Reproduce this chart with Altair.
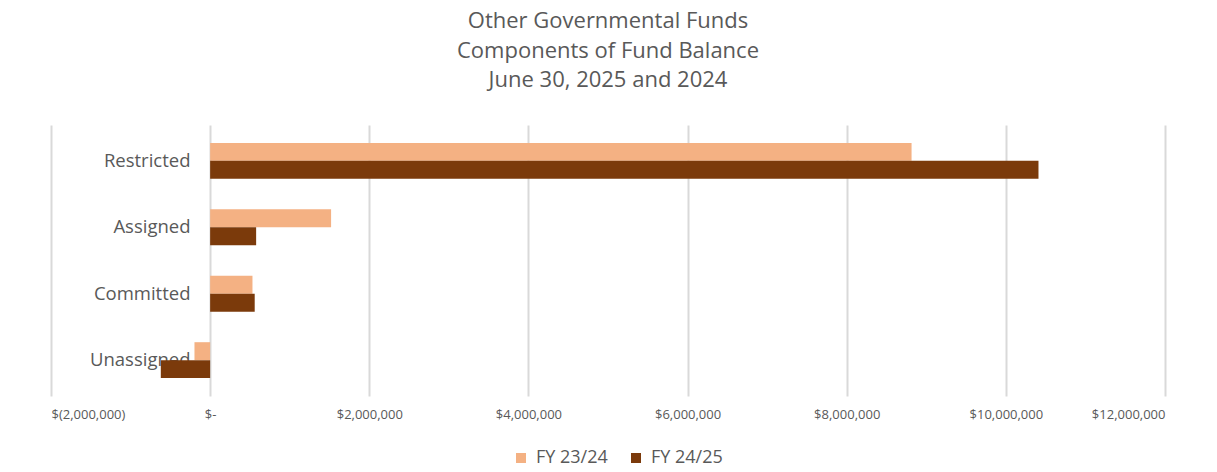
import altair as alt
import pandas as pd

categories = ["Restricted", "Assigned", "Committed", "Unassigned"]
series = ["FY 23/24", "FY 24/25"]
fy2324 = [8815000, 1520000, 532000, -197000]
fy2425 = [10410000, 578000, 560000, -620000]
tick_values = [-2000000, 0, 2000000, 4000000, 6000000, 8000000, 10000000, 12000000]
colors = ["#F4B183", "#7B3A0B"]
title_lines = ["Other Governmental Funds", "Components of Fund Balance", "June 30, 2025 and 2024"]

rows = []
for c, a, b in zip(categories, fy2324, fy2425):
    rows.append({"category": c, "series": series[0], "value": a})
    rows.append({"category": c, "series": series[1], "value": b})
df = pd.DataFrame(rows)

FONT = "Open Sans"
GREY = "#595959"

xscale = alt.Scale(domain=[-2000000, 12000000], nice=False, zero=False)
yscale = alt.Scale(domain=categories, paddingInner=0.46, paddingOuter=0.27)

label_expr = ("datum.value < 0 ? '$(' + format(-datum.value, ',') + ')' : "
              "(datum.value == 0 ? '$-' : '$' + format(datum.value, ','))")

bars = alt.Chart(df).mark_bar().encode(
    x=alt.X("value:Q", scale=xscale,
            axis=alt.Axis(values=tick_values, labelExpr=label_expr, title=None,
                          grid=True, gridColor="#D9D9D9", gridWidth=2,
                          domain=False, ticks=False, labelPadding=12,
                          labelFontSize=13, labelColor=GREY, labelFont=FONT)),
    y=alt.Y("category:N", scale=yscale, sort=categories,
            axis=alt.Axis(title=None, domain=False, ticks=False, grid=False,
                          offset=-159, labelPadding=20, labelFontSize=18.5,
                          labelColor=GREY, labelFont=FONT, zindex=0)),
    yOffset=alt.YOffset("series:N", sort=series, scale=alt.Scale(paddingInner=0, paddingOuter=0)),
    color=alt.Color("series:N", sort=series,
                    scale=alt.Scale(domain=series, range=colors),
                    legend=alt.Legend(title=None, orient="none", legendX=461, legendY=324,
                                      direction="horizontal", symbolType="square",
                                      symbolSize=100, symbolStrokeWidth=0,
                                      labelFontSize=18, labelColor=GREY, labelFont=FONT,
                                      labelOffset=6, columnPadding=19, symbolOffset=0)),
)

chart = bars.properties(
    width=1114,
    height=271,
    title=alt.TitleParams(title_lines, anchor="middle", fontSize=22, font=FONT,
                          color=GREY, fontWeight="normal", lineHeight=29.5, offset=33),
    autosize=alt.AutoSizeParams(type="none"),
    padding={"left": 43, "top": 117, "right": 44, "bottom": 76},
).configure_view(stroke=None)

chart.save("out.html", embed_options={"renderer": "svg", "actions": False})
